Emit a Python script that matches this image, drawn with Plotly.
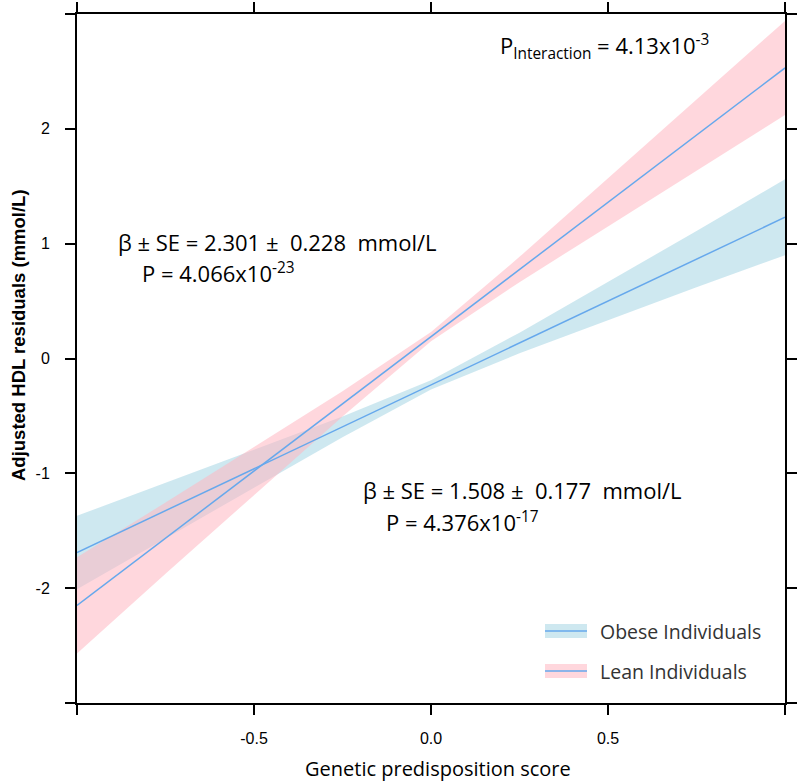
import plotly.graph_objects as go

# Genetic predisposition score (x positions where fit & CI were read)
gps = [-1.0, -0.75, -0.5, -0.25, 0.0, 0.25, 0.5, 0.75, 1.0]

# Lean individuals: fitted line and confidence band
lean_fit = [-2.15, -1.565, -0.98, -0.395, 0.19, 0.775, 1.36, 1.945, 2.53]
lean_lower = [-2.57, -1.875, -1.19, -0.505, 0.15, 0.665, 1.15, 1.635, 2.12]
lean_upper = [-1.73, -1.255, -0.77, -0.285, 0.23, 0.885, 1.57, 2.255, 2.94]

# Obese individuals: fitted line and confidence band
obese_fit = [-1.69, -1.325, -0.96, -0.595, -0.23, 0.135, 0.50, 0.865, 1.23]
obese_lower = [-2.01, -1.565, -1.125, -0.685, -0.27, 0.045, 0.335, 0.62, 0.90]
obese_upper = [-1.37, -1.085, -0.795, -0.505, -0.19, 0.225, 0.665, 1.11, 1.56]

x_tickvals = [-1.0, -0.5, 0.0, 0.5, 1.0]
x_ticktext = ["", "-0.5", "0.0", "0.5", ""]
y_tickvals = [-3, -2, -1, 0, 1, 2, 3]
y_ticktext = ["", "-2", "-1", "0", "1", "2", ""]

BLUE_FILL = "rgba(173,216,230,0.6)"
PINK_FILL = "rgba(255,182,193,0.55)"
LINE_COL = "#66a8ec"

fig = go.Figure()
fig.add_trace(go.Scatter(x=gps, y=obese_lower, mode="lines", line=dict(width=0), showlegend=False, hoverinfo="skip"))
fig.add_trace(go.Scatter(x=gps, y=obese_upper, mode="lines", line=dict(width=0), fill="tonexty",
                         fillcolor=BLUE_FILL, showlegend=False, hoverinfo="skip"))
fig.add_trace(go.Scatter(x=gps, y=lean_lower, mode="lines", line=dict(width=0), showlegend=False, hoverinfo="skip"))
fig.add_trace(go.Scatter(x=gps, y=lean_upper, mode="lines", line=dict(width=0), fill="tonexty",
                         fillcolor=PINK_FILL, showlegend=False, hoverinfo="skip"))
fig.add_trace(go.Scatter(x=gps, y=obese_fit, mode="lines", line=dict(color=LINE_COL, width=1.5), showlegend=False))
fig.add_trace(go.Scatter(x=gps, y=lean_fit, mode="lines", line=dict(color=LINE_COL, width=1.5), showlegend=False))

axis_common = dict(showline=True, linecolor="black", linewidth=2, mirror="ticks", ticks="outside",
                   ticklen=10, tickwidth=2, tickcolor="black", showgrid=False, zeroline=False,
                   automargin=False,
                   tickfont=dict(family="Liberation Sans, Arial", size=16, color="black"))

fig.update_layout(
    width=799, height=782,
    margin=dict(l=77, r=14, t=14, b=79, autoexpand=False),
    plot_bgcolor="white", paper_bgcolor="white",
    showlegend=False,
    xaxis=dict(range=[-1, 1], tickvals=x_tickvals, ticktext=x_ticktext, ticklabelstandoff=10, **axis_common),
    yaxis=dict(range=[-3, 3], tickvals=y_tickvals, ticktext=y_ticktext, ticklabelstandoff=12, **axis_common),
)

TXT_FAMILY = "Open Sans, Noto Sans, sans-serif"
ann_font = dict(family=TXT_FAMILY, size=22, color="black")
PW, PH = 708, 689

def px(xp):
    return (xp - 77) / PW

def py(yp):
    return (703 - yp) / PH

annots = [
    dict(text="β ± SE = 2.301 ± \u00a00.228 \u00a0mmol/L", x=px(116), y=py(242), xanchor="left", yanchor="middle"),
    dict(text="P = 4.066x10<sup>-23</sup>", x=px(140), y=py(273), xanchor="left", yanchor="middle"),
    dict(text="β ± SE = 1.508 ± \u00a00.177 \u00a0mmol/L", x=px(361), y=py(490), xanchor="left", yanchor="middle"),
    dict(text="P = 4.376x10<sup>-17</sup>", x=px(384), y=py(521), xanchor="left", yanchor="middle"),
    dict(text="P<sub>Interaction</sub> = 4.13x10<sup>-3</sup>", x=px(498), y=py(46), xanchor="left", yanchor="middle"),
]
for a in annots:
    fig.add_annotation(xref="paper", yref="paper", showarrow=False, font=ann_font, **a)

fig.add_annotation(xref="paper", yref="paper", x=px(438), y=py(768), xanchor="center", yanchor="middle",
                   showarrow=False, text="Genetic predisposition score",
                   font=dict(family=TXT_FAMILY, size=20, color="black"))
fig.add_annotation(xref="paper", yref="paper", x=px(18), y=py(335), xanchor="center", yanchor="middle",
                   showarrow=False, textangle=-90, text="<b>Adjusted HDL residuals (mmol/L)</b>",
                   font=dict(family="Liberation Sans, Arial", size=18.5, color="black"))

legend_items = [("Obese Individuals", BLUE_FILL, 631), ("Lean Individuals", PINK_FILL, 671)]
for label, fillc, yc in legend_items:
    fig.add_shape(type="rect", xref="paper", yref="paper", x0=px(545), x1=px(587), y0=py(yc + 7), y1=py(yc - 7),
                  fillcolor=fillc, line=dict(width=0))
    fig.add_shape(type="line", xref="paper", yref="paper", x0=px(545), x1=px(587), y0=py(yc), y1=py(yc),
                  line=dict(color=LINE_COL, width=1.5))
    fig.add_annotation(xref="paper", yref="paper", x=px(598), y=py(yc), xanchor="left", yanchor="middle",
                       showarrow=False, text=label,
                       font=dict(family=TXT_FAMILY, size=19.5, color="#333333"))

fig.write_html("out.html", config={"displayModeBar": False},
               post_script="document.body.style.margin='0px';")
